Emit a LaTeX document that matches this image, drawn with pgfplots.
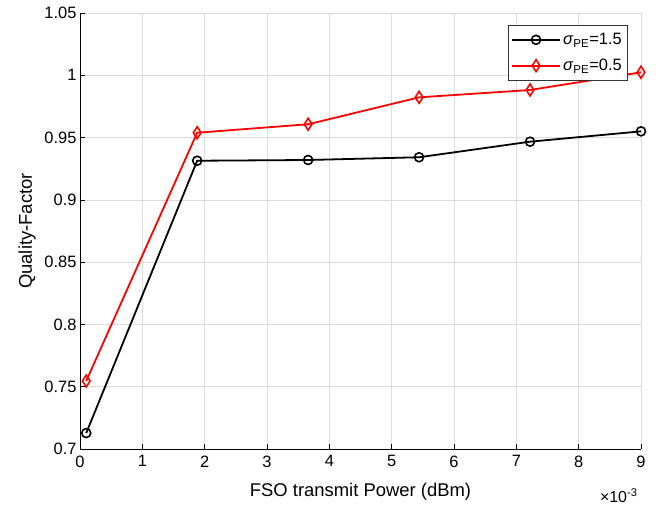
\documentclass[border=0pt]{standalone}
\usepackage{pgfplots}
\pgfplotsset{compat=1.18}
\usepackage{fontspec}
\setmainfont{Liberation Sans}
\begin{document}
\begin{tikzpicture}
\begin{axis}[
  scale only axis,
  width=561bp, height=436bp,
  xmin=0, xmax=9, ymin=0.7, ymax=1.05,
  xtick={0,1,...,9},
  ytick={0.7,0.75,0.8,0.85,0.9,0.95,1,1.05},
  yticklabel style={/pgf/number format/fixed, /pgf/number format/precision=2},
  xticklabel style={yshift=-3bp},
  /pgf/number format/assume math mode=true,
  axis x line*=bottom, axis y line*=left,
  axis line style={line width=0.8bp, -},
  tick align=inside,
  major tick length=5bp,
  tick style={line width=0.7bp, black},
  grid=major,
  grid style={gray!28, line width=0.6bp},
  tick label style={font=\fontsize{16.5}{19}\selectfont},
  label style={font=\fontsize{18.5}{22}\selectfont},
  xlabel={FSO transmit Power (dBm)},
  ylabel={Quality-Factor},
  xlabel style={yshift=-9bp},
  ylabel style={yshift=2bp},
  legend style={at={(0.975,0.972)}, anchor=north east, draw=black!80,
    fill=white, font=\fontsize{16.5}{19}\selectfont, row sep=9bp, inner xsep=3bp, inner ysep=6bp},
  legend cell align=left,
  legend image code/.code={\draw[mark repeat=2,mark phase=2] plot coordinates {(0cm,0cm) (0.85cm,0cm) (1.7cm,0cm)};},
]
\addplot[black, line width=1.8bp, mark=o, mark size=4.5bp, mark options={line width=1.6bp}]
  coordinates {(0.1,0.7128) (1.88,0.9314) (3.66,0.9320) (5.44,0.9342) (7.22,0.9467) (9.0,0.9550)};
\addlegendentry{\textit{σ}\textsubscript{PE}=1.5}
\addplot[red, line width=1.8bp, mark=diamond, mark size=6bp, mark options={line width=1.6bp, xscale=0.85}]
  coordinates {(0.1,0.7546) (1.88,0.9539) (3.66,0.9607) (5.44,0.9823) (7.22,0.9882) (9.0,1.0024)};
\addlegendentry{\textit{σ}\textsubscript{PE}=0.5}
\end{axis}
\node[anchor=east, font=\fontsize{16}{19}\selectfont] at ([shift={(0bp,-47bp)}]current axis.south east) {×10\textsuperscript{-3}};
\pgfresetboundingbox
\path[use as bounding box] ([shift={(-80bp,-56bp)}]current axis.south west) rectangle ([shift={(19bp,13bp)}]current axis.north east);
\end{tikzpicture}
\end{document}
